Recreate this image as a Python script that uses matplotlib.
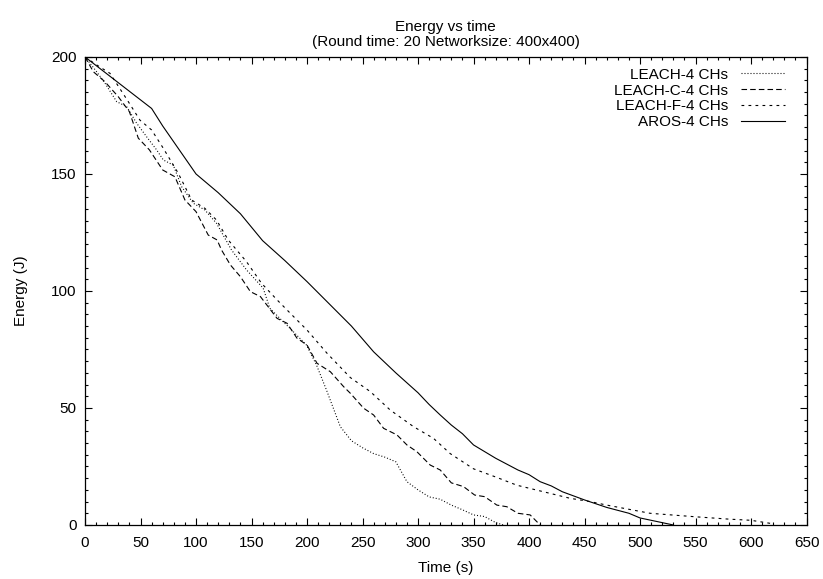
import matplotlib
matplotlib.use('Agg')
import matplotlib.pyplot as plt
from matplotlib.ticker import MultipleLocator

plt.rcParams['font.family'] = ['Liberation Sans', 'DejaVu Sans']
plt.rcParams['font.size'] = 11

# LEACH, 4 cluster heads (dotted)
t_leach = [0, 10, 18, 28.5, 37.5, 46.5, 55.5, 64.5, 70.5, 79.5, 87, 97.5, 108, 118.5,
           132, 145.5, 160.5, 166.5, 175.5, 184.5, 199.5, 208.5, 217.5, 230, 240, 250,
           260, 270, 280, 290, 300, 310, 320, 330, 340, 350, 360, 370, 377]
e_leach = [200, 194, 188.8, 180.9, 178.8, 171.7, 165.9, 160.3, 156, 153.8, 144.6, 137.5,
           134.6, 128.9, 117.5, 109, 101.2, 92.6, 88.3, 84.1, 76.9, 68.4, 57.7, 42, 36, 33,
           30.5, 29, 27, 18.5, 15, 12, 11, 8.5, 6.5, 4.3, 3.6, 1, 0]

# LEACH-C, 4 cluster heads (long dash)
t_leachc = [0, 7.5, 18, 30, 40, 48, 58, 70, 81, 90, 100, 111, 119, 123, 131, 140, 149,
            158, 173, 182, 191, 200, 209, 221, 233, 239, 251, 260, 269, 281, 290, 299,
            311, 320, 330, 341, 351, 360, 371, 380, 390, 401, 410]
e_leachc = [200, 193.7, 189.4, 183, 176.6, 165.3, 160.3, 151.7, 148.8, 138.9, 133.9,
            123.9, 121.8, 117.5, 111.1, 106.1, 99.7, 97.6, 88.3, 86.2, 79.8, 76.9, 69.1,
            65.5, 59.1, 56.3, 49.9, 47, 41.3, 38.5, 34.2, 31.3, 25.6, 23.5, 18, 16.4,
            12.8, 12.1, 8.5, 7.8, 5, 4.3, 0]

# LEACH-F, 4 cluster heads (short dash)
t_leachf = [0, 10.5, 22.5, 39, 49.5, 60, 70.5, 84, 96, 108, 118.5, 129, 145.5, 159, 173,
            188, 200, 218, 239, 257, 275, 296, 314, 329, 350, 370, 389, 419, 437, 455,
            470, 509, 550, 580, 600, 620]
e_leachf = [200, 196.6, 193, 180.9, 173, 168.8, 161, 150.3, 138.9, 135.3, 130.3, 121.8,
            112.5, 103.3, 96.2, 89, 83.3, 73.4, 63, 57, 49.1, 42, 37, 30.5, 24, 20.5,
            17, 13.5, 11.4, 10, 8.5, 5, 3.5, 2.5, 2, 0.5]

# AROS, 4 cluster heads (solid)
t_aros = [0, 60, 70, 100, 120, 140, 160, 180, 200, 220, 240, 260, 280, 300, 310, 320,
          330, 340, 350, 370, 390, 400, 410, 420, 430, 450, 470, 490, 500, 520, 530]
e_aros = [200, 178, 170.5, 150, 142, 133, 121.5, 113, 104, 94.5, 85, 74, 65, 56.5, 51.5,
          47, 42.7, 39, 34.2, 28.5, 23.5, 21.5, 18.5, 16.7, 14.2, 10.7, 7.5, 5, 3, 1, 0]

fig = plt.figure(figsize=(8.23, 5.79), dpi=100)
ax = fig.add_axes([0.1033, 0.0933, 0.8767, 0.8083])

lw = 0.8
ax.plot(t_leach, e_leach, color='black', lw=lw, linestyle=(0, (0.9, 1.8)), label='LEACH-4 CHs')
ax.plot(t_leachc, e_leachc, color='black', lw=lw, linestyle=(0, (5, 2.8)), label='LEACH-C-4 CHs')
ax.plot(t_leachf, e_leachf, color='black', lw=lw, linestyle=(0, (2.5, 3.8)), label='LEACH-F-4 CHs')
ax.plot(t_aros, e_aros, color='black', lw=lw, linestyle='-', label='AROS-4 CHs')

ax.set_xlim(0, 650)
ax.set_ylim(0, 200)
ax.xaxis.set_major_locator(MultipleLocator(50))
ax.xaxis.set_minor_locator(MultipleLocator(10))
ax.yaxis.set_major_locator(MultipleLocator(50))
ax.yaxis.set_minor_locator(MultipleLocator(5))
ax.tick_params(which='both', direction='in', top=True, right=True, width=0.8)
ax.tick_params(which='major', length=5)
ax.tick_params(which='minor', length=2.5)
ax.tick_params(axis='x', pad=8)
ax.tick_params(axis='y', pad=6)
for s in ax.spines.values():
    s.set_linewidth(0.9)

ax.set_title('Energy vs time\n(Round time: 20 Networksize: 400x400)', fontsize=11, pad=8,
             linespacing=1.05)
ax.set_xlabel('Time (s)', labelpad=8)
ax.set_ylabel('Energy (J)', labelpad=17)

ax.legend(loc='upper right', bbox_to_anchor=(0.979, 0.99), borderaxespad=0,
          frameon=False, markerfirst=False, handlelength=2.9,
          labelspacing=0.12, handletextpad=0.85)

fig.savefig('out.png', dpi=100)
